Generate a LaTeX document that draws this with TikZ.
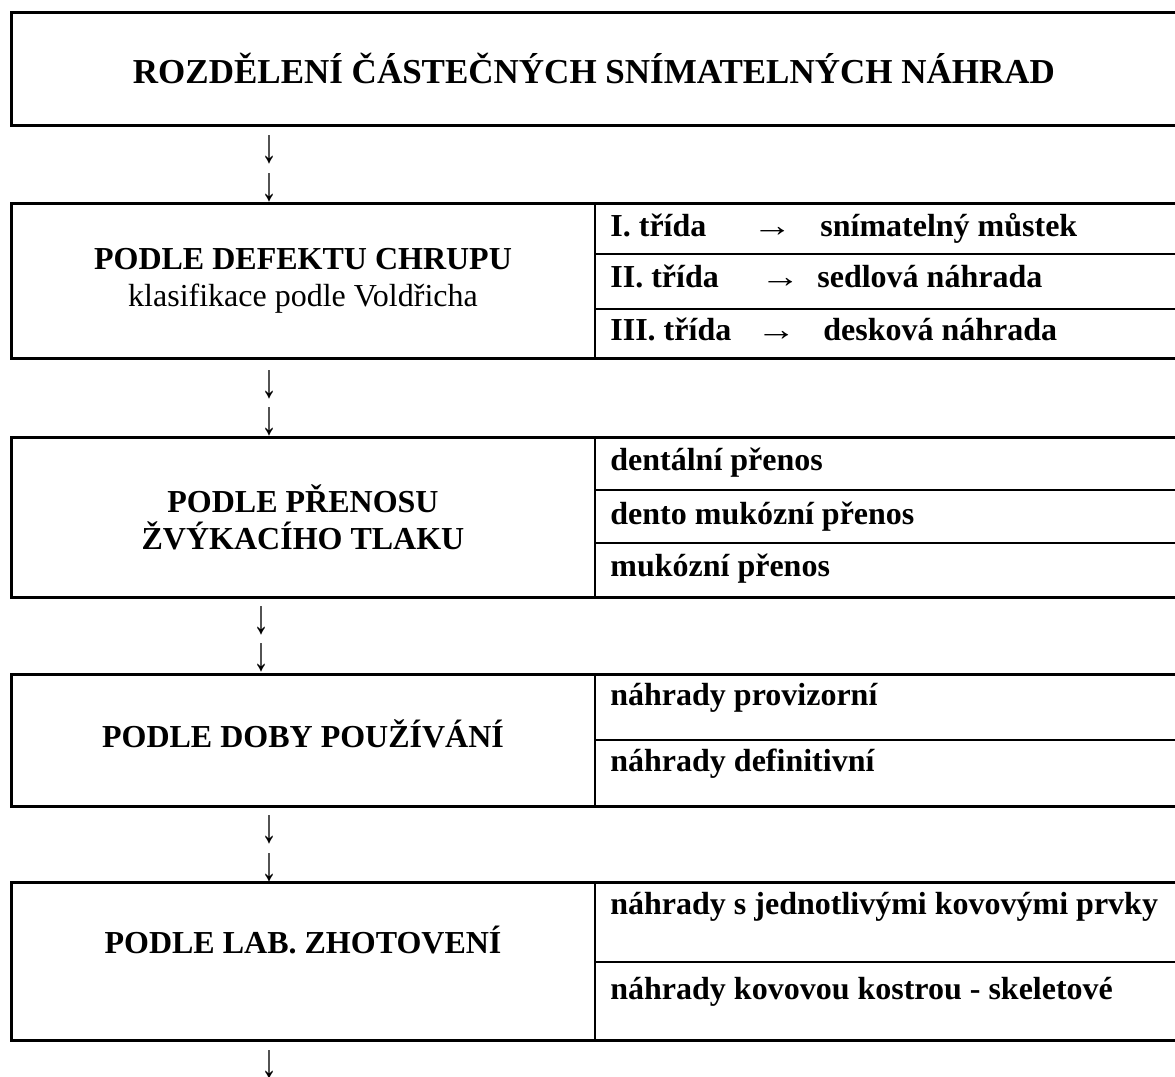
\documentclass[tikz,border=0pt]{standalone}
\usepackage{fontspec}
\setmainfont{Liberation Serif}
\usepackage{graphicx}
\usepackage{tikz}

\begin{document}
\begin{tikzpicture}
  [x=0.5pt, y=-0.5pt,
   frame/.style={line width=1.5pt},
   rule/.style={line width=1pt},
   title/.style={font=\fontsize{17.5}{20}\selectfont\bfseries},
   head/.style={font=\fontsize{16}{18.5}\selectfont\bfseries, align=center},
   item/.style={font=\fontsize{16}{18.5}\selectfont\bfseries, anchor=base west, inner sep=0pt},
   down/.style={font=\fontsize{16}{18.5}\selectfont, inner sep=0pt}]
  \useasboundingbox (0,0) rectangle (1175,1077);

  % frames of the table rows
  \draw[frame] (11,12) rectangle (1180,125);
  \draw[frame] (11,203) rectangle (1180,358);
  \draw[frame] (11,437) rectangle (1180,597);
  \draw[frame] (11,674) rectangle (1180,806);
  \draw[frame] (11,882) rectangle (1180,1040);
  \draw[rule] (595,203) -- (595,358);
  \draw[rule] (595,437) -- (595,597);
  \draw[rule] (595,674) -- (595,806);
  \draw[rule] (595,882) -- (595,1040);
  \foreach \y in {254,309,490,543,740,962}
  \draw[rule] (595,\y) -- (1180,\y);

  \node[title] (root) at (594,68) {ROZDĚLENÍ ČÁSTEČNÝCH SNÍMATELNÝCH NÁHRAD};

  \node[head] (defekt) at (303,281) {PODLE DEFEKTU CHRUPU\\ {\mdseries klasifikace podle Voldřicha}};
  \node[item] (tr1) at (610,236) {\makebox[71pt][l]{I. třída}\makebox[34pt][l]{\scalebox{1.25}[1]{→}}snímatelný můstek};
  \node[item] (tr2) at (610,287) {\makebox[75pt][l]{II. třída}\makebox[28.5pt][l]{\scalebox{1.25}[1]{→}}sedlová náhrada};
  \node[item] (tr3) at (610,340) {\makebox[73pt][l]{III. třída}\makebox[33.5pt][l]{\scalebox{1.25}[1]{→}}desková náhrada};

  \node[head] (prenos) at (303,517) {PODLE PŘENOSU\\ŽVÝKACÍHO TLAKU};
  \node[item] (pr1) at (610,470) {dentální přenos};
  \node[item] (pr2) at (610,524) {dento mukózní přenos};
  \node[item] (pr3) at (610,576) {mukózní přenos};

  \node[head, anchor=base] (doba) at (303,747) {PODLE DOBY POUŽÍVÁNÍ};
  \node[item] (db1) at (610,705) {náhrady provizorní};
  \node[item] (db2) at (610,771) {náhrady definitivní};

  \node[head, anchor=base] (lab) at (303,953) {PODLE LAB. ZHOTOVENÍ};
  \node[item] (lb1) at (610,914) {náhrady s jednotlivými kovovými prvky};
  \node[item] (lb2) at (610,999) {náhrady kovovou kostrou - skeletové};

  \foreach \name/\x/\y in {a1/269/150, a2/269/188, a3/269/385, a4/269/422,
    a5/261/621, a6/261/658, a7/269/830, a8/269/868, a9/269/1065}
  \node[down] (\name) at (\x,\y) {\scalebox{1}[1.5]{↓}};

\end{tikzpicture}
\end{document}
